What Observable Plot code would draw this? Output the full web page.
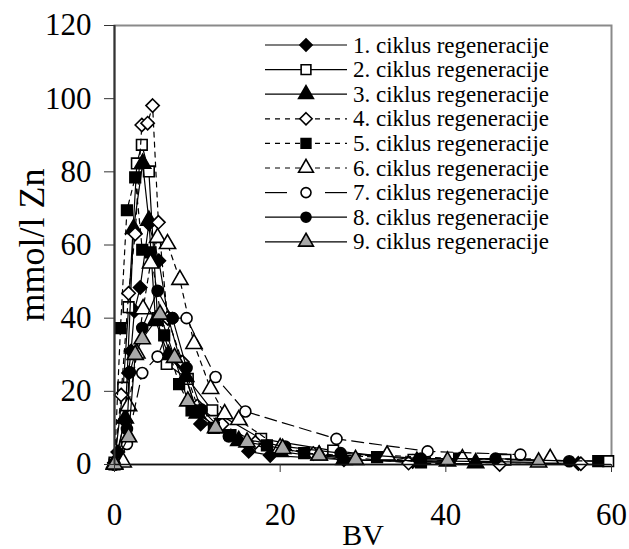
<!DOCTYPE html>
<html><head><meta charset="utf-8">
<script src="https://cdn.jsdelivr.net/npm/d3@7"></script>
<script src="https://cdn.jsdelivr.net/npm/@observablehq/plot@0.6"></script>
<style>
body{margin:0;background:#fff;}
#wrap{position:relative;width:629px;height:549px;}
</style></head><body><div id="wrap"></div>
<script>
// ---- data (BV, mmol/l Zn) ----
const seriesNames = ["1. ciklus regeneracije","2. ciklus regeneracije","3. ciklus regeneracije","4. ciklus regeneracije","5. ciklus regeneracije","6. ciklus regeneracije","7. ciklus regeneracije","8. ciklus regeneracije","9. ciklus regeneracije"];
const cycle1 = [[0,0.5],[0.4,3.4],[1.2,12],[1.7,25],[2.0,31],[2.4,42],[3.1,48.4],[4.15,65.8],[5.35,55.7],[6.5,40],[8.0,28],[10.4,11.1],[12.5,10.5],[16.2,3.6],[18.8,2.5],[27.7,1.3],[36,0.8],[46.5,0.5],[56,0.3]];
const cycle2 = [[0,0.5],[1.05,21],[1.7,43],[2.7,82.3],[3.3,87.4],[4.15,80.1],[5.2,40],[6.3,27.5],[8.85,23.4],[11.8,14.8],[17.7,7],[26.4,3.8],[36.1,1.3],[47.2,1.3],[59.6,0.9]];
const cycle3 = [[0,0.3],[1.3,12.6],[2.3,64.4],[3.4,82.3],[4.15,66.7],[4.95,39.3],[6.5,30],[8.6,24],[10,14],[12.5,10],[15,6.5],[20,3.5],[27.7,1.3],[36.5,0.8],[43.6,0.4]];
const cycle4 = [[0,0.4],[0.8,19],[1.7,46.8],[2.5,63],[3.3,92.8],[4.0,93.3],[4.6,98.1],[5.3,66.2],[6.4,40],[8.2,28],[10,16],[13,11],[17,6],[24,3],[35.5,0.4],[46.5,0],[56.3,0.2]];
const cycle5 = [[0,0],[0.72,37.3],[1.5,69.5],[2.5,78.5],[3.35,58.7],[4.35,58],[6.0,35.3],[7.8,22],[9.3,14.8],[12,10],[14,8],[18.4,5.2],[22.9,3.1],[31.7,2],[37,0.6],[41.6,1.6],[58.4,0.9]];
const cycle6 = [[0,0],[1.05,0.6],[1.7,16],[2.7,30.4],[3.45,42.5],[4.35,55],[5.2,62],[6.4,60.3],[7.9,50.5],[9.6,33],[11.6,20.7],[13.3,13.8],[15,12.2],[20,4.5],[24.7,2.5],[32.9,2.5],[42,1.5],[52.6,1.6]];
const cycle7 = [[0,0],[1.5,5.6],[3.35,25],[5.2,29.5],[7,40],[8.7,40],[12.2,23.9],[15.8,14.5],[26.8,7],[37.8,3.6],[49,2.7]];
const cycle8 = [[0,0],[1.5,9.7],[1.85,25.2],[3.35,37.3],[5.2,47.5],[7,40],[8.7,26.4],[10.5,15],[13.8,7.7],[20.6,4.9],[27.3,3.1],[37,1.6],[46,1.6],[54.9,0.9]];
const cycle9 = [[0,0],[1.7,7.5],[2.5,30],[3.35,34.3],[5.5,41],[7.25,29.2],[8.85,17.3],[12.2,10],[16,6.1],[20.3,4.3],[24.7,2.5],[29.1,1.3],[40.2,0.9],[51.2,0.6]];
const xTicks = [0,20,40,60];
const yTicks = [0,20,40,60,80,100,120];
const xLabel = "BV";
const yLabel = "mmol/l Zn";

// ---- styles ----
const cycles = [cycle1,cycle2,cycle3,cycle4,cycle5,cycle6,cycle7,cycle8,cycle9];
const styles = [
  {symbol:"diamond2", fill:"black", dash:null},
  {symbol:"square", fill:"white", dash:null},
  {symbol:"triangle", fill:"black", dash:null},
  {symbol:"diamond2", fill:"white", dash:"5,5"},
  {symbol:"square", fill:"black", dash:"5,5"},
  {symbol:"triangle", fill:"white", dash:"5,5"},
  {symbol:"circle", fill:"white", dash:"12,6"},
  {symbol:"circle", fill:"black", dash:null},
  {symbol:"triangle", fill:"#a8a8a8", dash:null}
];
const font = "'Liberation Serif','Times New Roman',serif";

const marks = [Plot.frame({stroke:"#8a8a8a", strokeWidth:2})];
cycles.forEach((c,i)=>{
  const data = c.map(([x,y])=>({x,y}));
  const st = styles[i];
  marks.push(Plot.line(data,{x:"x",y:"y",stroke:"black",strokeWidth:1.2,strokeDasharray:st.dash}));
  marks.push(Plot.dot(data,{x:"x",y:"y",symbol:st.symbol,fill:st.fill,stroke:"black",strokeWidth:1.6,r:st.symbol==="circle"?5.5:6}));
});
marks.push(Plot.ruleX([0],{stroke:"#333",strokeWidth:2}));
marks.push(Plot.ruleY([0],{stroke:"#111",strokeWidth:1.5}));
marks.push(Plot.axisX({ticks:xTicks, tickSize:8, tickPadding:30, label:null, stroke:"#333", fontSize:31}));
marks.push(Plot.axisY({ticks:yTicks, tickSize:10, tickPadding:13, label:null, stroke:"#333", fontSize:31}));
marks.push(Plot.text([xLabel],{frameAnchor:"bottom", dy:80, lineAnchor:"bottom", fontSize:30}));
marks.push(Plot.text([yLabel],{frameAnchor:"left", dx:-82, rotate:-90, lineAnchor:"middle", textAnchor:"middle", fontSize:36}));

const chart = Plot.plot({
  width:629, height:549,
  marginLeft:114, marginRight:18, marginTop:25, marginBottom:85,
  style:{fontFamily:font, fontSize:"31px", background:"white", color:"black", overflow:"visible"},
  x:{domain:[0,60]},
  y:{domain:[0,120]},
  marks
});
document.getElementById("wrap").appendChild(chart);

// ---- legend ----
const lg = d3.select("#wrap").append("svg")
  .attr("width",629).attr("height",549)
  .style("position","absolute").style("left","0").style("top","0")
  .style("font-family",font);
const symMap = {diamond2:d3.symbolDiamond2, square:d3.symbolSquare, triangle:d3.symbolTriangle, circle:d3.symbolCircle};
const lx0 = 265, lx1 = 347, lxm = 306, ltx = 353, ly0 = 45, lstep = 24.6;
seriesNames.forEach((name,i)=>{
  const st = styles[i];
  const g = lg.append("g").attr("transform",`translate(0,${ly0+i*lstep})`);
  if (st.dash === "12,6") {
    g.append("line").attr("x1",lx0).attr("x2",lx0+22).attr("stroke","black").attr("stroke-width",1.2);
    g.append("line").attr("x1",lx1-22).attr("x2",lx1).attr("stroke","black").attr("stroke-width",1.2);
  } else {
    g.append("line").attr("x1",lx0).attr("x2",lx1).attr("stroke","black").attr("stroke-width",1.2)
      .attr("stroke-dasharray",st.dash);
  }
  const r = st.symbol==="circle"?5:5.5;
  g.append("path").attr("transform",`translate(${lxm},0)`)
    .attr("d",d3.symbol(symMap[st.symbol], Math.PI*r*r)())
    .attr("fill",st.fill).attr("stroke","black").attr("stroke-width",1.6);
  g.append("text").attr("x",ltx).attr("y",0).attr("dy","0.33em").attr("font-size",23).text(name);
});
</script></body></html>
